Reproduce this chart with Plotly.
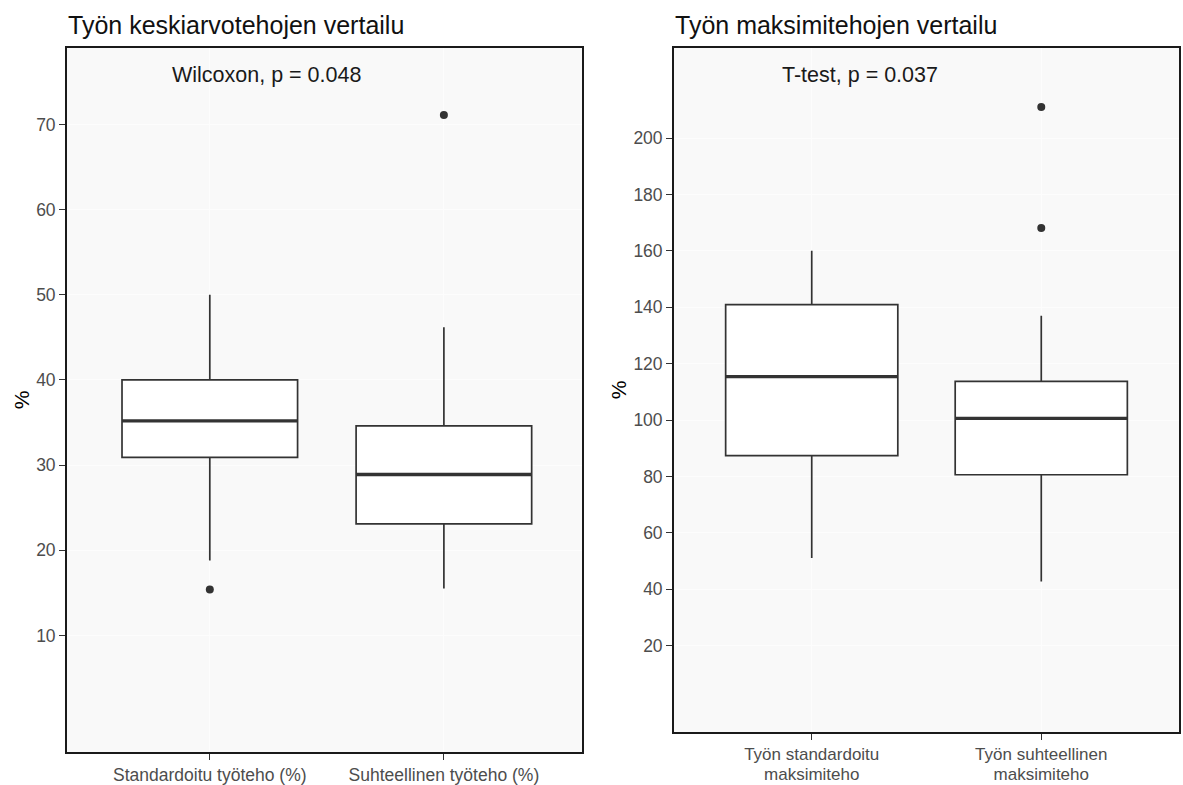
import plotly.graph_objects as go

# --- Data -------------------------------------------------------------
mean_labels = ["Standardoitu työteho (%)", "Suhteellinen työteho (%)"]
mean_q1 = [30.9, 23.1]
mean_median = [35.2, 28.9]
mean_q3 = [40.0, 34.6]
mean_low = [18.8, 15.5]
mean_high = [50.0, 46.2]
mean_outliers = [[15.4], [71.1]]

max_labels = ["Työn standardoitu\nmaksimiteho", "Työn suhteellinen\nmaksimiteho"]
max_q1 = [87.4, 80.6]
max_median = [115.4, 100.6]
max_q3 = [140.9, 113.7]
max_low = [51.1, 42.7]
max_high = [160.0, 137.0]
max_outliers = [[], [211.0, 168.1]]

mean_ticks = [10, 20, 30, 40, 50, 60, 70]
max_ticks = [20, 40, 60, 80, 100, 120, 140, 160, 180, 200]
mean_yrange = [-3.7, 79.0]
max_yrange = [-10.7, 232.0]

titles = ["Työn keskiarvotehojen vertailu", "Työn maksimitehojen vertailu"]
tests = ["Wilcoxon, p = 0.048", "T-test, p = 0.037"]

# --- Layout constants -------------------------------------------------
W, H = 1183, 785
FONT = "Liberation Sans, Arial, sans-serif"
INK = "#333333"
TXT = "#4d4d4d"
BOX_W = 0.75
TICK_SIZE = 17.5
WRAP_SIZE = 17

panels = [
    dict(labels=mean_labels, q1=mean_q1, med=mean_median, q3=mean_q3,
         lo=mean_low, hi=mean_high, out=mean_outliers, ticks=mean_ticks,
         yrange=mean_yrange, xrange=[-0.61, 1.59],
         left=67, right=582, top=48, bottom=755,
         title=titles[0], test=tests[0], test_x=0.2),
    dict(labels=max_labels, q1=max_q1, med=max_median, q3=max_q3,
         lo=max_low, hi=max_high, out=max_outliers, ticks=max_ticks,
         yrange=max_yrange, xrange=[-0.6, 1.6],
         left=674, right=1179, top=48, bottom=735,
         title=titles[1], test=tests[1], test_x=0.21),
]

fig = go.Figure()
annotations = []
axis_common = dict(
    showline=True, linecolor="#1a1a1a", linewidth=1.8, mirror=True,
    ticks="outside", ticklen=6, tickcolor=INK, tickwidth=1.2,
    tickfont=dict(family=FONT, size=TICK_SIZE, color=TXT),
    showgrid=True, gridcolor="#fdfdfd", gridwidth=1, zeroline=False,
)
extra_axis = 3

for i, p in enumerate(panels, start=1):
    xa = "x" if i == 1 else f"x{i}"
    ya = "y" if i == 1 else f"y{i}"
    pos = list(range(len(p["labels"])))

    # boxes from precomputed statistics
    fig.add_trace(go.Box(
        x=pos, q1=p["q1"], median=p["med"], q3=p["q3"],
        lowerfence=p["lo"], upperfence=p["hi"],
        width=BOX_W, whiskerwidth=0, boxpoints=False,
        fillcolor="white", line=dict(color=INK, width=1.7),
        hoverinfo="skip", showlegend=False, xaxis=xa, yaxis=ya,
    ))
    # heavier median bars
    for k, m in zip(pos, p["med"]):
        fig.add_trace(go.Scatter(
            x=[k - BOX_W / 2, k + BOX_W / 2], y=[m, m], mode="lines",
            line=dict(color=INK, width=3.4), hoverinfo="skip",
            showlegend=False, xaxis=xa, yaxis=ya,
        ))
    # outliers
    ox, oy = [], []
    for k, vals in zip(pos, p["out"]):
        ox += [k] * len(vals)
        oy += vals
    fig.add_trace(go.Scatter(
        x=ox, y=oy, mode="markers", marker=dict(color=INK, size=8),
        hoverinfo="skip", showlegend=False, xaxis=xa, yaxis=ya,
    ))

    xdom = [p["left"] / W, p["right"] / W]
    ydom = [1 - p["bottom"] / H, 1 - p["top"] / H]
    lines = [lab.split("\n") for lab in p["labels"]]
    first = [l[0] for l in lines]
    wrapped = any(len(l) > 1 for l in lines)

    xfont = dict(family=FONT, size=WRAP_SIZE if wrapped else TICK_SIZE, color=TXT)
    fig.update_layout(**{
        ("xaxis" if i == 1 else f"xaxis{i}"): dict(
            domain=xdom, range=p["xrange"], tickvals=pos,
            ticktext=first, anchor=ya,
            **{**axis_common, "tickfont": xfont}),
        ("yaxis" if i == 1 else f"yaxis{i}"): dict(
            domain=ydom, range=p["yrange"], tickvals=p["ticks"],
            anchor=xa, title=dict(text="%", standoff=1,
                                  font=dict(family=FONT, size=21, color="#000")),
            **axis_common),
    })

    # wrapped labels: second line on an overlaid axis just below the first
    if wrapped:
        second = [l[1] if len(l) > 1 else "" for l in lines]
        xb = f"x{extra_axis}"
        fig.add_trace(go.Scatter(
            x=pos, y=[None] * len(pos), mode="markers", hoverinfo="skip",
            showlegend=False, xaxis=xb, yaxis=ya,
        ))
        fig.update_layout(**{
            f"xaxis{extra_axis}": dict(
                overlaying=xa, anchor=ya, side="bottom", range=p["xrange"],
                tickvals=pos, ticktext=second, showline=False, showgrid=False,
                zeroline=False, ticks="outside", ticklen=6,
                tickcolor="rgba(0,0,0,0)", ticklabelstandoff=20,
                tickfont=xfont),
        })
        extra_axis += 1

    annotations.append(dict(
        text=p["title"], x=(p["left"] - 1) / W, y=1 - 25 / H, xref="paper",
        yref="paper", xanchor="left", yanchor="middle", showarrow=False,
        font=dict(family=FONT, size=25, color="#111111"),
    ))
    annotations.append(dict(
        text=p["test"], x=p["test_x"],
        y=1 - (75 - p["top"]) / (p["bottom"] - p["top"]),
        xref=f"{xa} domain", yref=f"{ya} domain", xanchor="left",
        yanchor="middle", showarrow=False,
        font=dict(family=FONT, size=21.5, color="#1a1a1a"),
    ))

fig.update_layout(
    width=W, height=H, margin=dict(l=0, r=0, t=0, b=0),
    paper_bgcolor="white", plot_bgcolor="#f9f9f9",
    annotations=annotations, font=dict(family=FONT),
)

fig.write_html("out.html")
